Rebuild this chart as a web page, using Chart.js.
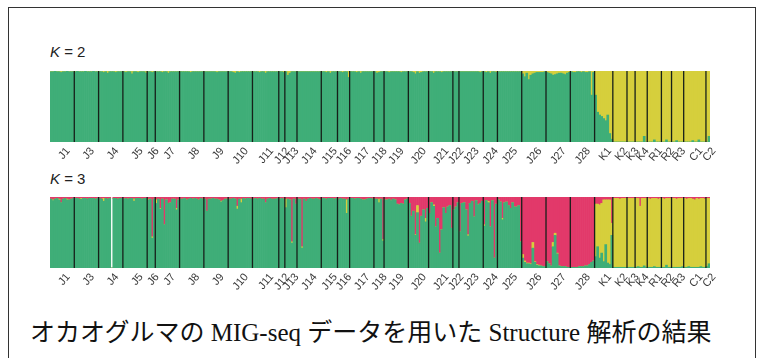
<!DOCTYPE html>
<html>
<head>
<meta charset="utf-8">
<script src="https://cdn.jsdelivr.net/npm/chart.js@4.4.1/dist/chart.umd.min.js"></script>
<style>
  body { margin: 0; width: 758px; height: 358px; background: #fff; position: relative; overflow: hidden;
         font-family: 'Liberation Sans', Arial, sans-serif; }
  .frame { position: absolute; left: 8px; top: 7px; width: 746px; height: 400px; border: 1px solid #333; }
  .klabel { position: absolute; left: 50px; font-size: 15px; color: #222; }
  .panel { position: absolute; left: 0; }
  .caption { position: absolute; left: 30px; top: 312px; font-size: 25px; color: #111; white-space: nowrap;
             font-family: 'Liberation Serif', 'Noto Sans CJK JP', serif; }
</style>
</head>
<body>
<div class="frame"></div>
<div class="klabel" style="top:43px"><i>K</i> = 2</div>
<canvas id="k2" class="panel" style="top:60px" width="758" height="110"></canvas>
<div class="klabel" style="top:170px"><i>K</i> = 3</div>
<canvas id="k3" class="panel" style="top:186px" width="758" height="110"></canvas>
<div class="caption">オカオグルマの MIG-seq データを用いた Structure 解析の結果</div>

<script>
// populations and number of individuals in each
const popNames = ['J1','J3','J4','J5','J6','J7','J8','J9','J10','J11','J12','J13','J14','J15','J16','J17','J18','J19',
                  'J20','J21','J22','J23','J24','J25','J26','J27','J28','K1','K2','K3','K4','R1','R2','R3','C1','C2'];
const popSizes = [12,12,12,12,4,12,12,12,12,13,3,6,12,8,6,12,5,12,10,12,3,12,7,12,12,12,12,9,7,4,6,7,5,6,11,2];

// K = 2 : membership (%) in the yellow cluster, one value per individual
const k2Yellow = [
  1,1,0,1,1,2,1,1,0,1,1,1,            // J1
  1,0,1,1,1,0,1,1,1,0,1,1,            // J3
  1,1,2,1,3,1,1,1,2,1,1,1,            // J4
  1,2,1,1,4,1,1,2,1,1,1,3,            // J5
  1,1,2,1,                            // J6
  1,1,1,2,1,1,3,1,1,1,1,1,            // J7
  1,1,1,1,1,2,1,1,1,1,1,1,            // J8
  1,1,1,1,1,1,2,1,1,1,1,1,            // J9
  1,1,2,3,1,2,1,1,1,1,1,1,            // J10
  1,1,1,2,1,1,3,1,1,1,1,1,1,          // J11
  1,1,2,                              // J12
  1,6,3,1,1,1,                        // J13
  1,1,1,1,1,1,1,1,1,1,1,1,            // J14
  1,1,2,1,3,1,1,1,                    // J15
  1,1,2,1,1,9,                        // J16
  1,1,1,2,1,3,1,1,1,1,1,1,            // J17
  1,3,2,1,1,                          // J18
  1,1,2,1,1,1,1,1,2,1,1,1,            // J19
  1,1,2,4,1,3,2,1,1,1,                // J20
  1,1,3,1,1,1,2,1,1,1,1,1,            // J21
  1,1,1,                              // J22
  1,1,1,1,1,1,1,1,1,1,2,1,            // J23
  1,2,1,3,1,1,2,                      // J24
  1,1,1,1,1,1,1,1,1,1,1,1,            // J25
  4,8,3,12,6,4,3,2,2,2,2,1,           // J26
  2,3,4,6,5,4,3,3,4,5,3,2,            // J27
  1,2,2,1,1,2,1,2,2,1,34,2,           // J28
  34,58,62,64,67,70,62,88,96,         // K1
  100,100,100,100,100,100,100,        // K2
  100,100,100,100,                    // K3
  100,100,100,100,92,100,             // K4
  100,100,100,97,100,100,100,         // R1
  100,100,97,100,100,                 // R2
  100,100,98,100,100,100,             // R3
  100,100,100,100,98,100,100,97,100,100,100, // C1
  100,92                              // C2
];

// K = 3 : membership (%) in the red cluster
const k3Red = [
  3,4,3,2,3,8,3,2,3,4,3,2,            // J1
  2,2,3,2,2,2,3,2,2,2,3,2,            // J3
  2,3,2,2,3,2,0,2,2,3,2,2,            // J4
  3,2,3,2,2,3,2,2,2,3,2,2,            // J5
  3,3,56,3,                           // J6
  4,3,16,3,39,4,9,8,3,3,16,4,         // J7
  3,3,2,4,3,2,3,2,3,4,2,3,            // J8
  3,20,3,3,2,3,3,4,6,5,3,3,           // J9
  3,3,2,3,13,3,3,2,3,2,2,3,           // J10
  3,2,3,2,3,3,8,3,2,3,3,3,2,          // J11
  3,2,3,                              // J12
  3,3,4,63,3,10,                      // J13
  3,3,70,3,6,3,2,3,3,2,3,4,           // J14
  2,2,3,2,2,2,3,2,                    // J15
  3,2,3,3,4,3,                        // J16
  2,2,3,2,2,3,4,4,3,2,2,3,            // J17
  3,3,3,3,60,                         // J18
  4,4,3,5,3,4,10,11,9,10,4,3,         // J19
  9,27,20,53,12,65,27,18,30,16,       // J20
  23,8,11,42,30,79,46,15,23,14,12,44, // J21
  18,14,8,                            // J22
  49,9,8,18,53,9,6,28,5,11,9,6,       // J23
  39,5,6,42,5,86,10,                  // J24
  4,7,30,8,7,12,16,8,14,14,12,63,     // J25
  81,90,93,93,94,64,91,95,96,97,98,98,// J26
  91,94,97,64,51,79,97,98,98,98,99,99,// J27
  99,99,99,99,98,98,98,97,97,95,92,90,// J28
  10,10,11,9,4,4,4,4,37,              // K1
  2,2,2,3,2,2,2,                      // K2
  2,2,2,2,                            // K3
  2,2,13,2,2,2,                       // K4
  2,3,2,2,2,3,2,                      // R1
  2,3,2,2,2,                          // R2
  2,2,3,2,2,2,                        // R3
  2,3,2,2,3,4,2,3,2,2,3,              // C1
  2,2                                 // C2
];

// K = 3 : membership (%) in the yellow cluster
const k3Yellow = [
  0,1,0,0,1,0,0,0,1,0,0,0,            // J1
  0,0,0,1,0,0,0,0,0,0,0,0,            // J3
  0,0,4,0,0,0,0,0,0,0,0,0,            // J4
  0,0,0,0,0,3,0,0,0,0,0,0,            // J5
  1,0,2,0,                            // J6
  5,0,1,0,0,0,0,0,0,0,2,0,            // J7
  0,0,0,0,0,0,0,0,0,0,0,0,            // J8
  0,0,0,0,0,0,0,0,1,0,0,0,            // J9
  0,0,0,0,4,0,5,0,0,0,0,0,            // J10
  0,0,0,0,0,0,0,0,0,0,0,0,0,          // J11
  0,0,0,                              // J12
  12,0,0,2,0,0,                       // J13
  0,0,2,0,0,0,0,0,0,0,0,0,            // J14
  0,0,0,0,0,0,0,0,                    // J15
  0,0,0,0,19,0,                       // J16
  0,0,0,0,0,0,0,0,0,0,0,0,            // J17
  0,0,5,0,2,                          // J18
  0,0,0,0,0,0,0,0,0,0,0,0,            // J19
  0,0,0,1,10,0,0,0,5,0,               // J20
  0,0,2,0,0,0,0,0,0,0,0,0,            // J21
  0,0,0,                              // J22
  0,0,0,0,2,0,0,0,0,0,0,0,            // J23
  2,0,2,0,0,0,0,                      // J24
  0,0,2,0,0,0,0,0,0,0,0,0,            // J25
  5,2,1,1,1,8,1,1,1,0,0,0,            // J26
  0,0,0,6,3,1,0,0,0,0,0,0,            // J27
  0,0,0,0,0,0,0,0,0,0,0,0,            // J28
  74,60,75,70,87,63,89,91,17,         // K1
  97,97,97,96,97,97,97,               // K2
  97,97,97,97,                        // K3
  97,96,86,97,95,97,                  // K4
  97,96,97,96,97,96,97,               // R1
  97,96,94,97,97,                     // R2
  97,97,96,97,97,96,                  // R3
  97,96,96,97,96,95,97,96,96,97,96,   // C1
  96,92                               // C2
];

// individual in J4 left blank in the K = 3 plot
const k3BlankAt = [30];

const colors = {
  green: '#3fae78',
  yellow: '#d6cf3c',
  red: '#e2396a',
  divider: '#17201a',
  label: '#3a3a3a'
};

const popStarts = [];
let total = 0;
popSizes.forEach(n => { popStarts.push(total); total += n; });

const individuals = [];
popNames.forEach((p, i) => {
  for (let j = 0; j < popSizes[i]; j++) individuals.push(p + '_' + (j + 1));
});

// population dividers and rotated population labels
const popDividers = {
  id: 'popDividers',
  afterDatasetsDraw(chart) {
    const { ctx, chartArea, scales: { x } } = chart;
    ctx.save();
    ctx.strokeStyle = colors.divider;
    ctx.lineWidth = 1.3;
    popStarts.forEach((s, i) => {
      if (i === 0) return;
      const px = (x.getPixelForValue(s - 1) + x.getPixelForValue(s)) / 2;
      ctx.beginPath();
      ctx.moveTo(px, chartArea.top);
      ctx.lineTo(px, chartArea.bottom);
      ctx.stroke();
    });
    ctx.fillStyle = colors.label;
    ctx.font = '11px "Liberation Sans", Arial, sans-serif';
    ctx.textAlign = 'right';
    ctx.textBaseline = 'middle';
    popNames.forEach((name, i) => {
      const s = popStarts[i];
      const e = s + popSizes[i] - 1;
      const cx = (x.getPixelForValue(s) + x.getPixelForValue(e)) / 2;
      ctx.save();
      ctx.translate(cx + 6, chartArea.bottom + 7);
      ctx.rotate(-50 * Math.PI / 180);
      ctx.fillText(name, 0, 0);
      ctx.restore();
    });
    ctx.restore();
  }
};

const baseOptions = {
  responsive: false,
  animation: false,
  layout: { padding: { left: 50, right: 48, top: 11, bottom: 28 } },
  plugins: { legend: { display: false }, tooltip: { enabled: false } },
  datasets: { bar: { barPercentage: 1, categoryPercentage: 1, borderWidth: 0 } },
  scales: {
    x: { display: false, stacked: true },
    y: { display: false, stacked: true, min: 0, max: 100 }
  }
};

// K = 2
const k2Green = k2Yellow.map(v => 100 - v);
new Chart(document.getElementById('k2'), {
  type: 'bar',
  data: {
    labels: individuals,
    datasets: [
      { label: 'Cluster 1', data: k2Green, backgroundColor: colors.green },
      { label: 'Cluster 2', data: k2Yellow, backgroundColor: colors.yellow }
    ]
  },
  options: baseOptions,
  plugins: [popDividers]
});

// K = 3
const k3Blank = individuals.map((_, i) => k3BlankAt.includes(i) ? 100 : 0);
const k3Green = k3Red.map((r, i) => k3Blank[i] ? 0 : 100 - r - k3Yellow[i]);
new Chart(document.getElementById('k3'), {
  type: 'bar',
  data: {
    labels: individuals,
    datasets: [
      { label: 'Cluster 1', data: k3Green, backgroundColor: colors.green },
      { label: 'Cluster 2', data: k3Yellow, backgroundColor: colors.yellow },
      { label: 'Cluster 3', data: k3Red, backgroundColor: colors.red },
      { label: 'blank', data: k3Blank, backgroundColor: '#ffffff' }
    ]
  },
  options: baseOptions,
  plugins: [popDividers]
});
</script>
</body>
</html>
